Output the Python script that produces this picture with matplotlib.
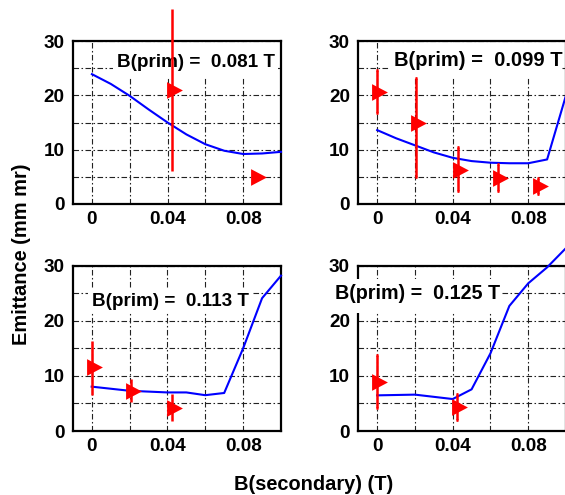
import matplotlib
matplotlib.use("Agg")
import matplotlib.pyplot as plt
from matplotlib.patches import Rectangle
import numpy as np

plt.rcParams['font.family'] = ['Liberation Sans', 'DejaVu Sans']
plt.rcParams['font.weight'] = 'bold'

# ---- data ----
labels = ["B(prim) =  0.081 T", "B(prim) =  0.099 T",
          "B(prim) =  0.113 T", "B(prim) =  0.125 T"]

curve_x_tl = [0, 0.01, 0.02, 0.03, 0.04, 0.05, 0.06, 0.07, 0.08, 0.09, 0.1]
curve_y_tl = [23.9, 22.1, 19.9, 17.4, 15.0, 12.8, 11.0, 9.8, 9.2, 9.3, 9.6]
curve_x_tr = [0, 0.01, 0.02, 0.03, 0.04, 0.05, 0.06, 0.07, 0.08, 0.09, 0.1]
curve_y_tr = [13.6, 12.1, 10.8, 9.5, 8.5, 7.9, 7.6, 7.5, 7.5, 8.2, 20.0]
curve_x_bl = [0, 0.02, 0.04, 0.05, 0.06, 0.07, 0.08, 0.09, 0.1]
curve_y_bl = [8.05, 7.3, 7.0, 7.0, 6.5, 6.9, 15.0, 24.1, 28.2]
curve_x_br = [0, 0.02, 0.04, 0.05, 0.06, 0.07, 0.08, 0.09, 0.1]
curve_y_br = [6.47, 6.6, 5.8, 7.56, 14.1, 22.7, 26.8, 29.7, 33.2]

meas_x_tl = [0.0424, 0.0868]
meas_y_tl = [20.9, 5.0]
meas_lo_tl = [6.1, 5.0]
meas_hi_tl = [35.8, 5.0]

meas_x_tr = [0.0, 0.0208, 0.0426, 0.0639, 0.085]
meas_y_tr = [20.7, 14.85, 6.26, 4.85, 3.4]
meas_lo_tr = [16.7, 5.0, 2.45, 2.45, 1.85]
meas_hi_tr = [24.6, 23.1, 10.4, 7.4, 4.85]

meas_x_bl = [0.0, 0.0208, 0.0424]
meas_y_bl = [11.7, 7.26, 4.23]
meas_lo_bl = [6.5, 5.3, 1.9]
meas_hi_bl = [16.3, 9.4, 6.8]

meas_x_br = [0.0, 0.0424]
meas_y_br = [8.95, 4.4]
meas_lo_br = [4.2, 2.0]
meas_hi_br = [13.8, 6.7]

x_grid = [0, 0.02, 0.04, 0.06, 0.08, 0.1]
x_ticklabels = ["0", "", "0.04", "", "0.08", ""]
y_grid = [0, 5, 10, 15, 20, 25, 30]
y_ticklabels = ["0", "", "10", "", "20", "", "30"]

# ---- layout ----
W, H = 565, 495
fig = plt.figure(figsize=(W / 100, H / 100), dpi=100)

def rect(l, r, t, b):
    return [l / W, 1 - b / H, (r - l) / W, (b - t) / H]

positions = [rect(73, 281, 41, 204), rect(358.3, 566, 41, 204),
             rect(72.7, 281, 265.7, 431), rect(358.3, 566, 265.7, 431)]
text_pos = [(0.0134, 26.1), (0.009, 26.5), (0.0003, 23.5), (-0.0223, 24.9)]
text_size = [13.6, 14.5, 13.6, 14.2]
boxes = [(0.0112, 23.4, 0.0984, 29.6), (0.0067, 23.1, 0.0974, 29.6),
         (-0.002, 21.4, 0.0846, 25.9), (-0.025, 21.4, 0.0662, 27.5)]
caps = [False, True, False, True]

curves = [(curve_x_tl, curve_y_tl), (curve_x_tr, curve_y_tr),
          (curve_x_bl, curve_y_bl), (curve_x_br, curve_y_br)]
meas = [(meas_x_tl, meas_y_tl, meas_lo_tl, meas_hi_tl),
        (meas_x_tr, meas_y_tr, meas_lo_tr, meas_hi_tr),
        (meas_x_bl, meas_y_bl, meas_lo_bl, meas_hi_bl),
        (meas_x_br, meas_y_br, meas_lo_br, meas_hi_br)]

tri = [(-0.65, -1.0), (-0.65, 1.0), (1.25, 0.0), (-0.65, -1.0)]

for i in range(4):
    ax = fig.add_axes(positions[i])
    ax.set_xlim(-0.01, 0.1)
    ax.set_ylim(0, 30)
    ax.set_xticks(x_grid, x_ticklabels)
    ax.set_yticks(y_grid, y_ticklabels)
    ax.tick_params(length=0, labelsize=13.6, pad=6)
    ax.tick_params(axis='x', pad=5)
    for lab in ax.get_xticklabels() + ax.get_yticklabels():
        lab.set_fontweight('bold')
    ax.grid(True, color='#222222', lw=0.8, dashes=(5, 2.2, 1.4, 2.2))
    for s in ax.spines.values():
        s.set_linewidth(1.6)

    cx, cy = curves[i]
    ax.plot(cx, cy, color='#0000ff', lw=1.5, zorder=3, clip_on=False)

    bx0, by0, bx1, by1 = boxes[i]
    ax.add_patch(Rectangle((bx0, by0), bx1 - bx0, by1 - by0, facecolor='white',
                           edgecolor='none', zorder=4, clip_on=False))
    tx, ty = text_pos[i]
    ax.text(tx, ty, labels[i], ha='left', va='center', fontsize=text_size[i],
            fontweight='bold', zorder=5, clip_on=False)

    mx, my, mlo, mhi = meas[i]
    mx = np.array(mx); my = np.array(my)
    yerr = [my - np.array(mlo), np.array(mhi) - my]
    eb = ax.errorbar(mx, my, yerr=yerr, fmt='none', ecolor='#ff0000',
                     elinewidth=1.8, capsize=1.0 if caps[i] else 0,
                     capthick=2.0, zorder=6)
    for c in eb[1]:
        c.set_color('#0000ff')
        c.set_clip_on(False)
    for c in eb[2]:
        c.set_clip_on(False)
    ax.plot(mx, my, linestyle='none', marker=tri, markersize=15,
            color='#ff0000', markeredgewidth=0, zorder=7, clip_on=False)

fig.text(22 / W, 1 - 254 / H, "Emittance (mm mr)", rotation=90, ha='center',
         va='center', fontsize=14.4, fontweight='bold')
fig.text(314 / W, 1 - 484 / H, "B(secondary) (T)", ha='center', va='center',
         fontsize=14.4, fontweight='bold')

fig.savefig("out.png", dpi=100)
